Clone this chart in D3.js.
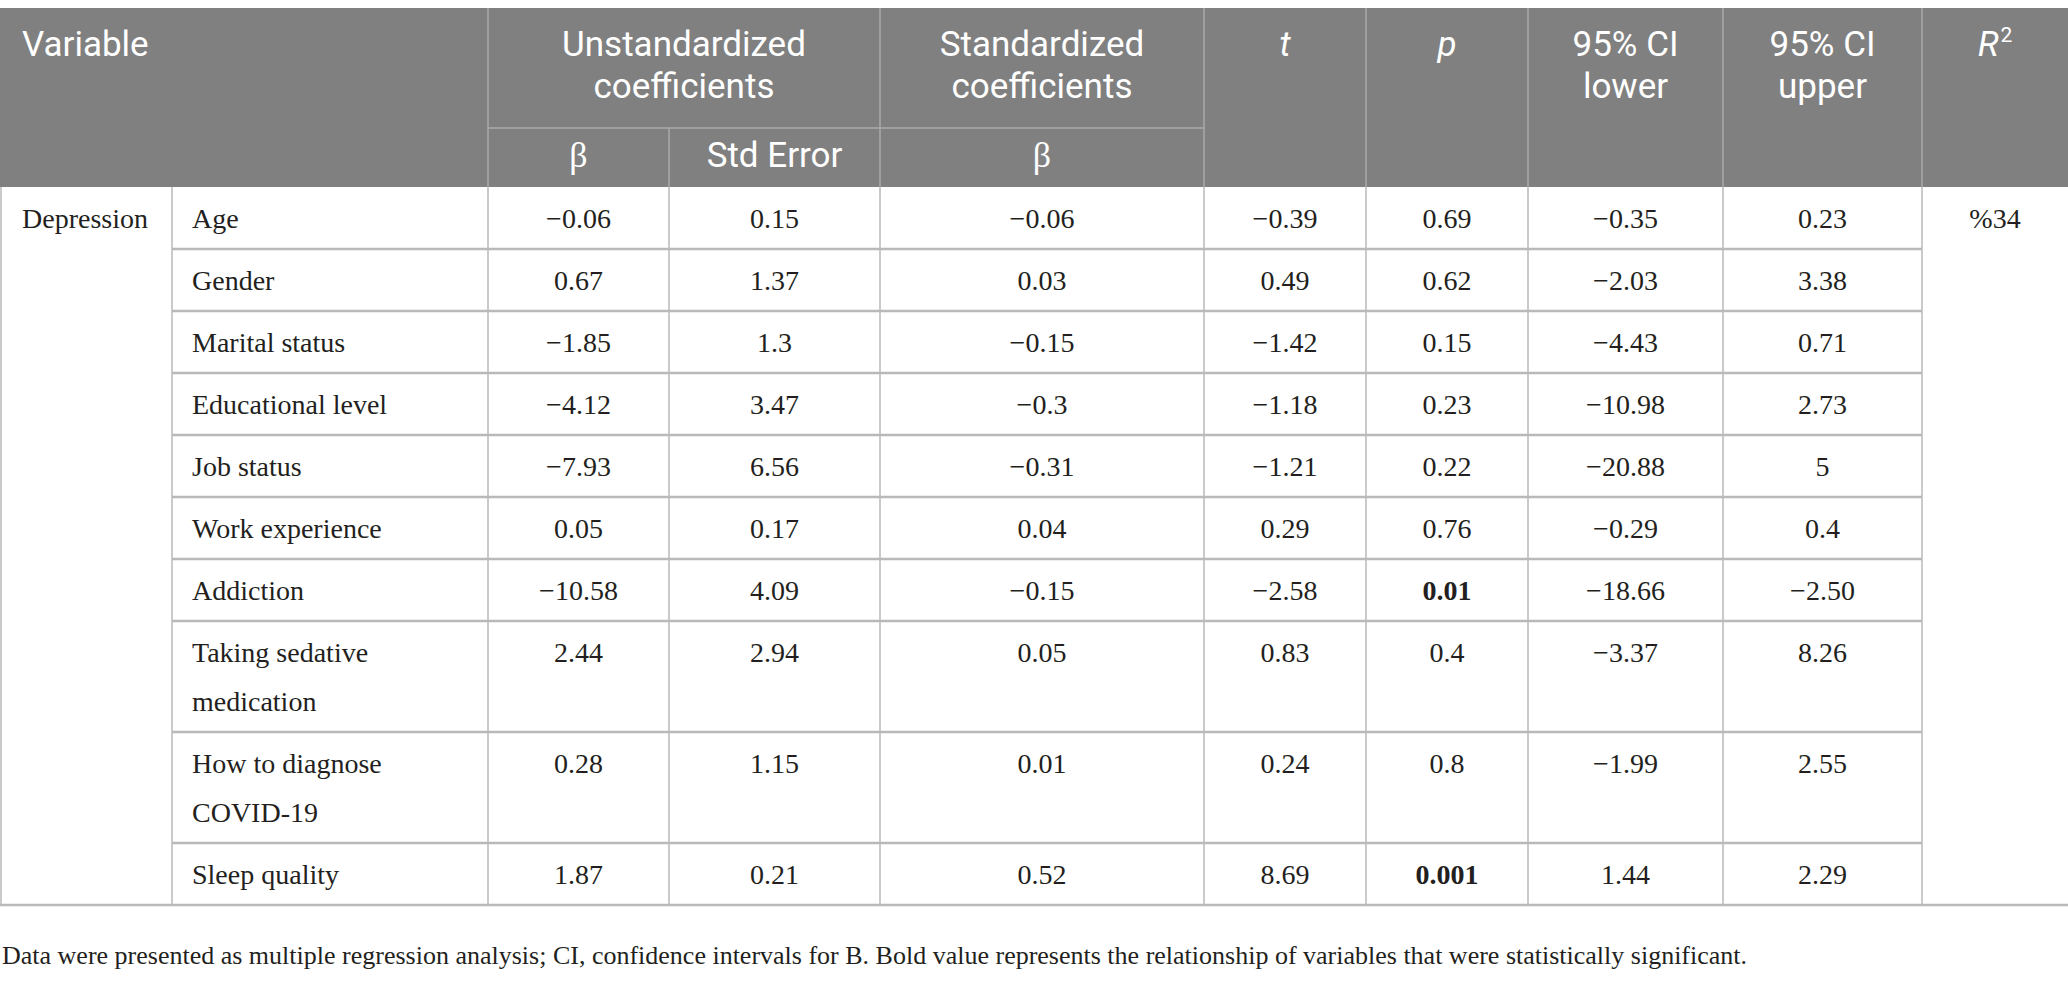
<!DOCTYPE html>
<html>
<head>
<meta charset="utf-8">
<script src="https://d3js.org/d3.v7.min.js"></script>
<style>
  body { margin: 0; background: #fff; }
  svg { display: block; }
</style>
</head>
<body>
<div id="chart"></div>
<script>

// ---- table content ----
const groupLabel = "Depression";
const variables = ["Age", "Gender", "Marital status", "Educational level", "Job status",
  "Work experience", "Addiction", "Taking sedative medication", "How to diagnose COVID-19", "Sleep quality"];
const unstdBeta = ["−0.06", "0.67", "−1.85", "−4.12", "−7.93", "0.05", "−10.58", "2.44", "0.28", "1.87"];
const stdError  = ["0.15", "1.37", "1.3", "3.47", "6.56", "0.17", "4.09", "2.94", "1.15", "0.21"];
const stdBeta   = ["−0.06", "0.03", "−0.15", "−0.3", "−0.31", "0.04", "−0.15", "0.05", "0.01", "0.52"];
const tValues   = ["−0.39", "0.49", "−1.42", "−1.18", "−1.21", "0.29", "−2.58", "0.83", "0.24", "8.69"];
const pValues   = ["0.69", "0.62", "0.15", "0.23", "0.22", "0.76", "0.01", "0.4", "0.8", "0.001"];
const ciLower   = ["−0.35", "−2.03", "−4.43", "−10.98", "−20.88", "−0.29", "−18.66", "−3.37", "−1.99", "1.44"];
const ciUpper   = ["0.23", "3.38", "0.71", "2.73", "5", "0.4", "−2.50", "8.26", "2.55", "2.29"];
const rSquared  = "%34";

const headerLabels = [["Variable"], ["Unstandardized", "coefficients"], ["Standardized", "coefficients"],
  ["t"], ["p"], ["95% CI", "lower"], ["95% CI", "upper"], ["R"]];
const subLabels = ["β", "Std Error", "β"];
const footnote = "Data were presented as multiple regression analysis; CI, confidence intervals for B. Bold value represents the relationship of variables that were statistically significant.";

// ---- layout ----
const W = 2068, H = 987;
const colKeys = ["group", "variable", "b", "se", "beta", "t", "p", "lo", "hi", "r2"];
const colEdges = [0, 172, 488, 669, 880, 1204, 1366, 1528, 1723, 1922, 2068];
const headTop = 8, headMid = 128, headBottom = 187;
const lineH = 49, rowPad = 13;

const serif = "'Liberation Serif', 'DejaVu Serif', serif";
const sans = "Roboto, 'Open Sans', sans-serif";
const ink = "#231f20";
const headFill = "#7f807f";
const rule = "#b9b9b9";

const xLeft = d3.scaleOrdinal().domain(colKeys).range(colEdges.slice(0, -1));
const xRight = d3.scaleOrdinal().domain(colKeys).range(colEdges.slice(1));
const xMid = k => (xLeft(k) + xRight(k)) / 2;

const svg = d3.select("#chart").append("svg")
  .attr("width", W)
  .attr("height", H);

// wrap variable names that don't fit the column
function wrap(label, maxW) {
  const probe = svg.append("text").attr("font-family", serif).attr("font-size", 28);
  const words = label.split(" ");
  const lines = [];
  let cur = "";
  words.forEach(w => {
    const test = cur ? cur + " " + w : w;
    probe.text(test);
    if (probe.node().getComputedTextLength() > maxW && cur) {
      lines.push(cur);
      cur = w;
    } else {
      cur = test;
    }
  });
  lines.push(cur);
  probe.remove();
  return lines;
}

const varLines = variables.map(v => wrap(v, xRight("variable") - xLeft("variable") - 60));
const rowHeights = varLines.map(l => rowPad + lineH * l.length);
const rowTops = rowHeights.map((h, i) => headBottom + d3.sum(rowHeights.slice(0, i)));
const y = d3.scaleOrdinal().domain(d3.range(variables.length)).range(rowTops);
const tableBottom = headBottom + d3.sum(rowHeights);

// ---- header ----
svg.append("rect")
  .attr("x", 0).attr("y", headTop)
  .attr("width", W).attr("height", headBottom - headTop)
  .attr("fill", headFill);

const headLine = "#a9aaa9";
// header verticals (skip the split inside "Variable")
const headVert = ["b", "beta", "t", "p", "lo", "hi", "r2"];
svg.append("g").selectAll("line")
  .data(headVert)
  .join("line")
    .attr("x1", d => xLeft(d)).attr("x2", d => xLeft(d))
    .attr("y1", headTop).attr("y2", headBottom)
    .attr("stroke", headLine).attr("stroke-width", 1.5);
svg.append("line")
  .attr("x1", xLeft("se")).attr("x2", xLeft("se"))
  .attr("y1", headMid).attr("y2", headBottom)
  .attr("stroke", headLine).attr("stroke-width", 1.5);
svg.append("line")
  .attr("x1", xLeft("b")).attr("x2", xLeft("t"))
  .attr("y1", headMid).attr("y2", headMid)
  .attr("stroke", headLine).attr("stroke-width", 1.5);

const headSpans = [["group", "variable"], ["b", "se"], ["beta", "beta"], ["t", "t"], ["p", "p"], ["lo", "lo"], ["hi", "hi"], ["r2", "r2"]];
const italicHead = [false, false, false, true, true, false, false, true];

const headG = svg.append("g")
  .attr("font-family", sans)
  .attr("font-size", 35)
  .attr("fill", "#fff");

const headText = headG.selectAll(".head")
  .data(headerLabels)
  .join("text")
    .attr("class", "head")
    .attr("x", (d, i) => i === 0 ? 22 : (xLeft(headSpans[i][0]) + xRight(headSpans[i][1])) / 2)
    .attr("y", 56)
    .attr("text-anchor", (d, i) => i === 0 ? "start" : "middle")
    .attr("font-style", (d, i) => italicHead[i] ? "italic" : "normal");

headText.selectAll("tspan")
  .data(d => d)
  .join("tspan")
    .attr("x", function() { return d3.select(this.parentNode).attr("x"); })
    .attr("dy", (d, i) => i === 0 ? 0 : 42)
    .text(d => d);

// superscript on R
headText.filter((d, i) => i === headerLabels.length - 1)
  .append("tspan")
    .attr("font-size", 21)
    .attr("font-style", "normal")
    .attr("dy", -14)
    .attr("dx", 2)
    .text("2");

headG.selectAll(".sub")
  .data(subLabels)
  .join("text")
    .attr("class", "sub")
    .attr("x", (d, i) => xMid(["b", "se", "beta"][i]))
    .attr("y", 167)
    .attr("text-anchor", "middle")
    .attr("font-family", d => d === "β" ? serif : sans)
    .attr("font-size", d => d === "β" ? 36 : 35)
    .text(d => d);

// ---- body rules ----
const bodyG = svg.append("g");
const bodyVert = ["group", "variable", "b", "se", "beta", "t", "p", "lo", "hi", "r2"];
bodyG.selectAll(".v")
  .data(bodyVert)
  .join("line")
    .attr("class", "v")
    .attr("x1", d => xLeft(d) + (d === "group" ? 1 : 0))
    .attr("x2", d => xLeft(d) + (d === "group" ? 1 : 0))
    .attr("y1", headBottom).attr("y2", tableBottom)
    .attr("stroke", rule).attr("stroke-width", 1.5);

// row separators run only between the group and R² columns
bodyG.selectAll(".h")
  .data(d3.range(1, variables.length))
  .join("line")
    .attr("class", "h")
    .attr("x1", xLeft("variable")).attr("x2", xLeft("r2"))
    .attr("y1", d => y(d)).attr("y2", d => y(d))
    .attr("stroke", rule).attr("stroke-width", 2.5);

bodyG.append("line")
  .attr("x1", 0).attr("x2", W)
  .attr("y1", tableBottom).attr("y2", tableBottom)
  .attr("stroke", rule).attr("stroke-width", 2.5);

// ---- body text ----
const textG = svg.append("g")
  .attr("font-family", serif)
  .attr("font-size", 28)
  .attr("fill", ink);

textG.append("text")
  .attr("x", 22).attr("y", y(0) + 41)
  .text(groupLabel);

textG.append("text")
  .attr("x", xMid("r2")).attr("y", y(0) + 41)
  .attr("text-anchor", "middle")
  .text(rSquared);

const varText = textG.selectAll(".var")
  .data(varLines)
  .join("text")
    .attr("class", "var")
    .attr("x", xLeft("variable") + 20)
    .attr("y", (d, i) => y(i) + 41);

varText.selectAll("tspan")
  .data(d => d)
  .join("tspan")
    .attr("x", xLeft("variable") + 20)
    .attr("dy", (d, i) => i === 0 ? 0 : lineH)
    .text(d => d);

const valueCols = [["b", unstdBeta], ["se", stdError], ["beta", stdBeta], ["t", tValues],
  ["p", pValues], ["lo", ciLower], ["hi", ciUpper]];

valueCols.forEach(([key, vals]) => {
  textG.append("g").selectAll("text")
    .data(vals)
    .join("text")
      .attr("x", xMid(key))
      .attr("y", (d, i) => y(i) + 41)
      .attr("text-anchor", "middle")
      .attr("font-weight", d => key === "p" && +d < 0.05 ? "bold" : "normal")
      .text(d => d);
});

// ---- footnote ----
svg.append("text")
  .attr("x", 2).attr("y", 964)
  .attr("font-family", serif)
  .attr("font-size", 26)
  .attr("fill", ink)
  .text(footnote);

</script>
</body>
</html>
